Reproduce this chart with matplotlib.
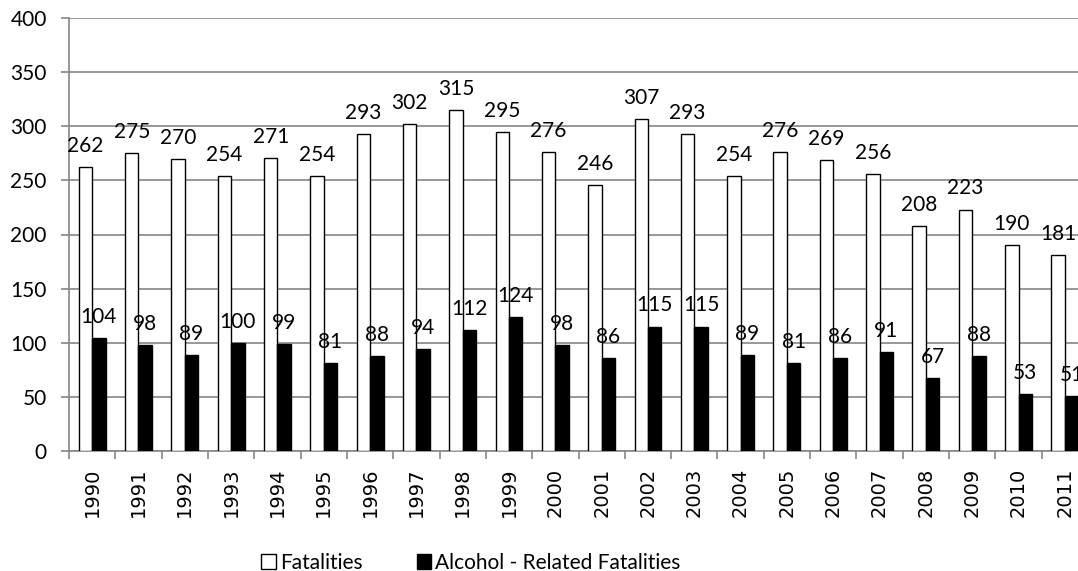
import matplotlib.pyplot as plt
from matplotlib.patches import Patch
import numpy as np

years = ["1990", "1991", "1992", "1993", "1994", "1995", "1996", "1997", "1998", "1999", "2000",
         "2001", "2002", "2003", "2004", "2005", "2006", "2007", "2008", "2009", "2010", "2011"]
fatalities = [262, 275, 270, 254, 271, 254, 293, 302, 315, 295, 276,
              246, 307, 293, 254, 276, 269, 256, 208, 223, 190, 181]
alcohol = [104, 98, 89, 100, 99, 81, 88, 94, 112, 124, 98,
           86, 115, 115, 89, 81, 86, 91, 67, 88, 53, 51]

W, H = 1078, 571
fig = plt.figure(figsize=(W / 100, H / 100), dpi=100)
ax = fig.add_axes([69 / W, (H - 451) / H, 1019 / W, 433 / H])

x = np.arange(len(years))
bw = 0.29
b1 = ax.bar(x - bw / 2, fatalities, bw, color="white", edgecolor="black", linewidth=1.0, zorder=3)
b2 = ax.bar(x + bw / 2, alcohol, bw, color="black", edgecolor="black", linewidth=1.0, zorder=3)

lab_font = "Lato"
for bars, vals in ((b1, fatalities), (b2, alcohol)):
    for rect, v in zip(bars, vals):
        ax.annotate(str(v), (rect.get_x() + rect.get_width() / 2, v), xytext=(0, 8),
                    textcoords="offset points", ha="center", va="bottom",
                    fontsize=15, family=lab_font, zorder=4, annotation_clip=False)

ax.set_xlim(-0.5, len(years) - 0.5)
ax.set_ylim(0, 400)
ax.set_yticks(range(0, 401, 50))
ax.yaxis.grid(True, color="#868686", linewidth=1.2, zorder=0)
ax.set_axisbelow(True)

ax.set_xticks(x)
ax.set_xticklabels(years, rotation=90, fontsize=14, family="DejaVu Sans")
ax.set_xticks(np.arange(-0.5, len(years), 1), minor=True)
ax.tick_params(axis="x", which="major", length=0, pad=12)
ax.tick_params(axis="x", which="minor", length=6, color="#868686", width=1.2)
ax.tick_params(axis="y", length=6, color="#868686", width=1.2, labelsize=15, pad=10)
for lbl in ax.get_yticklabels():
    lbl.set_family(lab_font)

for s in ("top", "right"):
    ax.spines[s].set_visible(False)
for s in ("left", "bottom"):
    ax.spines[s].set_color("#868686")
    ax.spines[s].set_linewidth(1.2)

handles = [Patch(facecolor="white", edgecolor="black", linewidth=1.0, label="Fatalities"),
           Patch(facecolor="black", edgecolor="black", label="Alcohol - Related Fatalities")]
fig.legend(handles=handles, loc="center", bbox_to_anchor=(471 / W, 8 / H), ncol=2,
           frameon=False, handlelength=0.7, handleheight=0.7, handletextpad=0.2,
           columnspacing=2.6, prop={"family": lab_font, "size": 15})

fig.savefig("out.png", dpi=100)
